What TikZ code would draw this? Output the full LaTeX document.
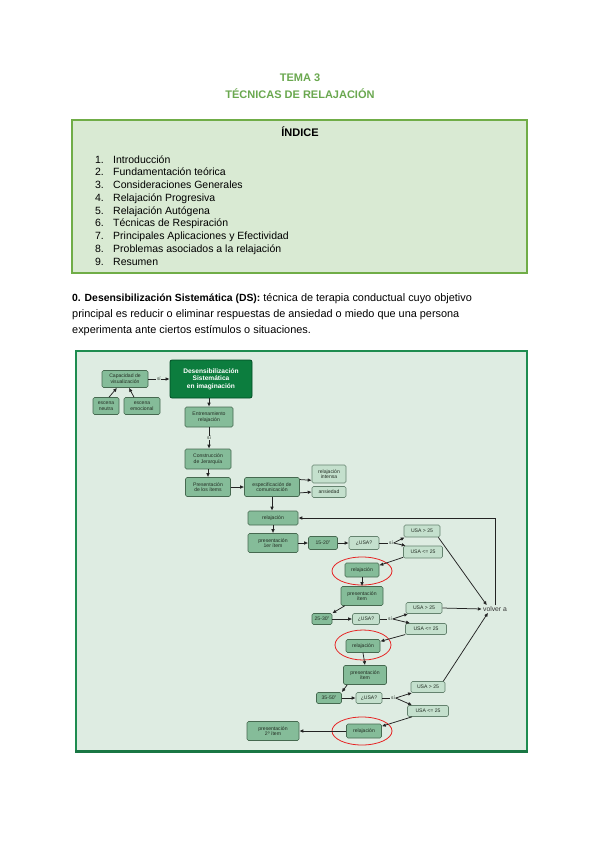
\documentclass[tikz,border=0pt]{standalone}
\usepackage{fontspec}
\setmainfont{Liberation Sans}
\usetikzlibrary{arrows.meta}
\definecolor{tgreen}{RGB}{106,168,79}
\definecolor{ifill}{RGB}{217,234,211}
\definecolor{iborder}{RGB}{112,173,71}
\definecolor{dbg}{RGB}{222,236,226}
\definecolor{dframe}{RGB}{30,140,80}
\definecolor{nfill}{RGB}{133,188,153}
\definecolor{nborder}{RGB}{70,105,80}
\definecolor{lfill}{RGB}{196,224,205}
\definecolor{lborder}{RGB}{100,130,110}
\definecolor{dsfill}{RGB}{12,125,62}
\definecolor{dsborder}{RGB}{0,75,35}
\definecolor{ntext}{RGB}{35,45,35}
\definecolor{arrc}{RGB}{35,35,35}
\definecolor{circ}{RGB}{230,35,35}
\begin{document}
\begin{tikzpicture}[x=1pt,y=-1pt,
  sz/.style 2 args={minimum width=#1pt, minimum height=#2pt},
  nd/.style={draw=nborder, fill=nfill, rounded corners=1.5pt, line width=0.6pt,
    font=\fontsize{5.1}{5.7}\selectfont, text=ntext, align=center, inner sep=0.5pt},
  nl/.style={nd, draw=lborder, fill=lfill},
  dsbox/.style={draw=dsborder, fill=dsfill, rounded corners=2pt, line width=0.8pt,
    font=\fontsize{6.6}{7.6}\selectfont\bfseries, text=white, align=center, inner sep=1pt},
  arr/.style={draw=arrc, line width=0.75pt, -{Latex[length=4pt,width=3.6pt]}},
  ln/.style={draw=arrc, line width=0.75pt},
  lab/.style={font=\fontsize{4.8}{5}\selectfont, text=ntext, inner sep=0.6pt, fill=dbg},
  ring/.style={draw=circ, line width=0.8pt},
  idx/.style={font=\fontsize{10.5}{12}\selectfont},
  par/.style={font=\fontsize{10.9}{12}\selectfont, anchor=base west, inner sep=0pt}
]
\useasboundingbox[fill=white] (0,0) rectangle (600,848);

% title
\node[font=\fontsize{11}{13}\selectfont\bfseries, text=tgreen, anchor=base] (t1) at (300,82) {TEMA 3};
\node[font=\fontsize{11}{13}\selectfont\bfseries, text=tgreen, anchor=base] (t2) at (300,99) {TÉCNICAS DE RELAJACIÓN};

% index box
\draw[fill=ifill, draw=iborder, line width=1.5pt] (72,120) rectangle (527,273);
\node[font=\fontsize{11}{13}\selectfont\bfseries, anchor=base] (ind) at (300,136) {ÍNDICE};
\foreach \t [count=\i] in {Introducción, Fundamentación teórica, Consideraciones Generales,
  Relajación Progresiva, Relajación Autógena, Técnicas de Respiración,
  Principales Aplicaciones y Efectividad, Problemas asociados a la relajación, Resumen}{
  \node[idx, anchor=base east, inner sep=0pt] (n\i) at (104,{163+(\i-1)*12.75}) {\i.};
  \node[idx, anchor=base west, inner sep=0pt] (it\i) at (113,{163+(\i-1)*12.75}) {\t};
}

% paragraph
\node[par] (p1l) at (72,301) {{\fontsize{10.4}{12}\selectfont\bfseries 0. Desensibilización Sistemática (DS):} técnica de terapia conductual cuyo objetivo};
\node[par] (p2l) at (72,317) {principal es reducir o eliminar respuestas de ansiedad o miedo que una persona};
\node[par] (p3l) at (72,333) {experimenta ante ciertos estímulos o situaciones.};

% diagram frame
\draw[fill=dbg, draw=dframe, line width=1.2pt] (76,351) rectangle (527,751);
\draw[draw=dframe!85!black, line width=3pt] (75,751) -- (528,751);

% nodes
\node[nd, sz={46}{17}] (cap) at (125,379) {Capacidad de\\visualización};
\node[dsbox, sz={82}{38}] (ds) at (211,379) {Desensibilización\\Sistemática\\en imaginación};
\node[nd, sz={26}{17}] (neu) at (106,406) {escena\\neutra};
\node[nd, sz={36}{17}] (emo) at (142,406) {escena\\emocional};
\node[nd, sz={48}{20}] (ent) at (209,417) {Entrenamiento\\relajación};
\node[nd, sz={46}{20}] (con) at (208,459) {Construcción\\de Jerarquía};
\node[nd, sz={45}{19}] (pre) at (208,487) {Presentación\\de los ítems};
\node[nd, sz={55}{19}] (esp) at (272,487) {especificación de\\comunicación};
\node[nl, sz={34}{18}] (ri) at (329,474) {relajación\\intensa};
\node[nl, sz={34}{11}] (ans) at (329,492) {ansiedad};
\node[nd, sz={50}{14}] (rel) at (273,518) {relajación};

\node[nd, sz={50}{19}] (pa) at (273,543) {presentación\\1er ítem};
\node[nd, sz={29}{13}] (ta) at (323,543) {15-20''};
\node[nl, sz={30}{13}] (ua) at (364,543) {¿USA?};
\node[lab] (sa) at (391,543) {sí};
\node[nl, sz={36}{12}] (ga) at (422,531) {USA > 25};
\node[nl, sz={39}{12}] (la) at (423,552) {USA <= 25};
\node[nd, sz={34}{14}] (ra) at (362,570) {relajación};
\draw[ring] (362,571) ellipse [x radius=30, y radius=14];

\node[nd, sz={42}{19}] (pb) at (362,596) {presentación\\ítem};
\node[nd, sz={20}{11}] (tb) at (322,619) {25-30''};
\node[nl, sz={27}{11}] (ub) at (366,619) {¿USA?};
\node[lab] (sb) at (390,619) {sí};
\node[nl, sz={36}{11}] (gb) at (424,608) {USA > 25};
\node[nl, sz={41}{11}] (lb) at (426,629) {USA <= 25};
\node[nd, sz={34}{13}] (rb) at (363,646) {relajación};
\draw[ring] (363,645) ellipse [x radius=28, y radius=15];

\node[nd, sz={43}{19}] (pc) at (365,675) {presentación\\ítem};
\node[nd, sz={25}{11}] (tc) at (329,698) {35-50''};
\node[nl, sz={26}{11}] (uc) at (369,698) {¿USA?};
\node[lab] (sc) at (393,698) {sí};
\node[nl, sz={34}{11}] (gc) at (428,687) {USA > 25};
\node[nl, sz={41}{11}] (lc) at (428,711) {USA <= 25};
\node[nd, sz={35}{14}] (rc) at (364,731) {relajación};
\draw[ring] (362,731) ellipse [x radius=30, y radius=14];
\node[nd, sz={52}{19}] (pd) at (273,731) {presentación\\2º ítem};

\node[font=\fontsize{6.8}{7}\selectfont, text=black!80, inner sep=1pt] (va) at (495,609) {volver a};

% connectors
\draw[arr] (cap.east) -- node[lab]{sí} (ds.west);
\draw[arr] ([xshift=3pt]neu.north) -- ([xshift=-8pt]cap.south);
\draw[arr] ([xshift=-8pt]emo.north) -- ([xshift=4pt]cap.south);
\draw[arr] (ds.south -| ent.north) -- (ent.north);
\draw[arr] (ent.south) -- node[lab]{sí} (ent.south |- con.north);
\draw[arr] (con.south) -- (pre.north);
\draw[arr] (pre.east) -- (esp.west);
\draw[arr] (esp.15) -- (ri.200);
\draw[arr] (esp.-12) -- (ans.west);
\draw[arr] (esp.south) -- (esp.south |- rel.north);
\draw[arr] (rel.south) -- (pa.north);

\draw[arr] (pa.east) -- (ta.west);
\draw[arr] (ta.east) -- (ua.west);
\draw[ln] (ua.east) -- (sa.west);
\draw[arr] (sa.east) -- (ga.200);
\draw[arr] (sa.east) -- (la.160);
\draw[arr] (la.195) -- (ra.15);
\draw[arr] (ra.south) -- (pb.north);

\draw[arr] ([xshift=4pt]pb.south west) -- (tb.north east);
\draw[arr] (tb.east) -- (ub.west);
\draw[ln] (ub.east) -- (sb.west);
\draw[arr] (sb.east) -- (gb.200);
\draw[arr] (sb.east) -- (lb.160);
\draw[arr] (lb.195) -- (rb.15);
\draw[arr] (rb.south) -- (pc.north);

\draw[arr] ([xshift=4pt]pc.south west) -- (tc.north east);
\draw[arr] (tc.east) -- (uc.west);
\draw[ln] (uc.east) -- (sc.west);
\draw[arr] (sc.east) -- (gc.200);
\draw[arr] (sc.east) -- (lc.160);
\draw[arr] (lc.200) -- (rc.15);
\draw[arr] (rc.west) -- (pd.east);

\draw[arr] ([xshift=-2pt]ga.south east) -- ([xshift=5pt]va.north west);
\draw[arr] (gb.east) -- (va.west);
\draw[arr] ([xshift=-2pt]gc.north east) -- ([xshift=-7pt]va.south);
\draw[arr] (va.north) |- (rel.east);
\end{tikzpicture}
\end{document}
